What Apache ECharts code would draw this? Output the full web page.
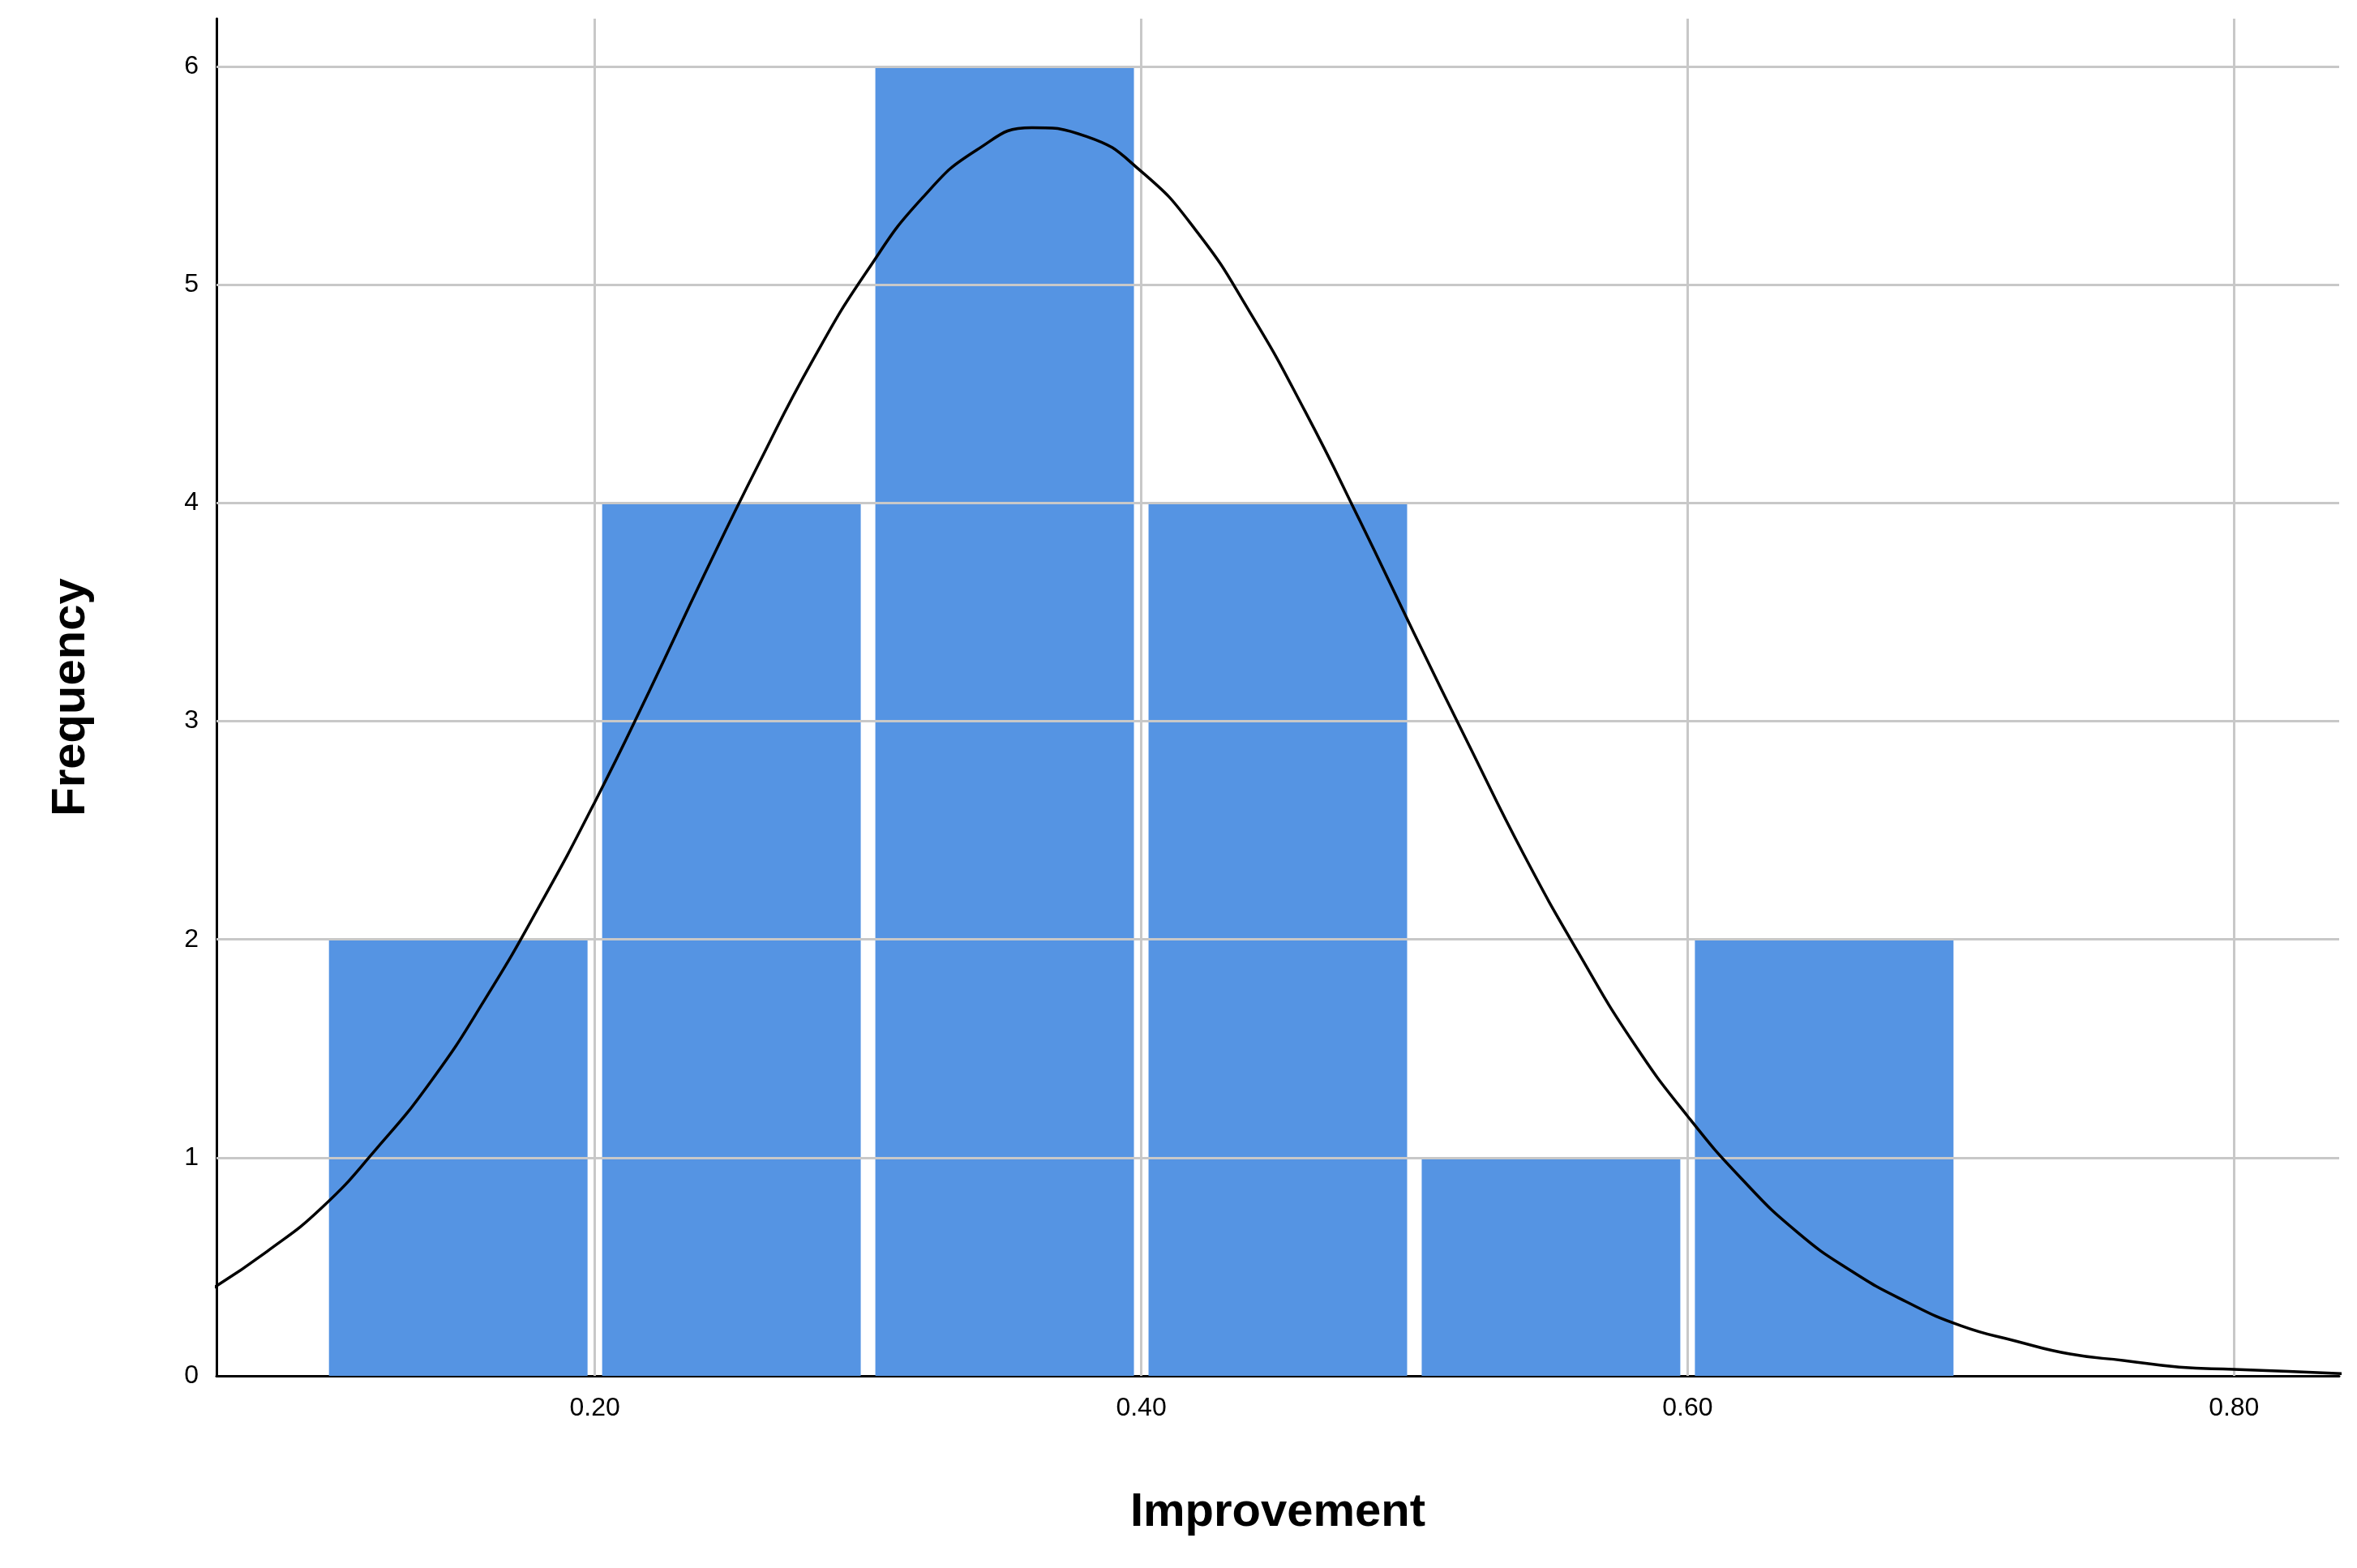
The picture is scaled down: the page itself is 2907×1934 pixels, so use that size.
<!DOCTYPE html>
<html><head><meta charset="utf-8">
<script src="https://cdn.jsdelivr.net/npm/echarts@6/dist/echarts.min.js"></script>
<style>html,body{margin:0;padding:0;background:#fff}#c{width:2907px;height:1934px}</style>
</head><body><div id="c"></div>
<script>
const binStarts = [0.1, 0.2, 0.3, 0.4, 0.5, 0.6];
const binWidth = 0.1;
const counts = [2, 4, 6, 4, 1, 2];
const curveX = [0.06,0.08,0.10,0.12,0.14,0.16,0.18,0.20,0.22,0.24,0.26,0.28,0.30,0.32,0.34,0.36,0.38,0.40,0.42,0.44,0.46,0.48,0.50,0.52,0.54,0.56,0.58,0.60,0.62,0.64,0.66,0.68,0.70,0.72,0.74,0.76,0.78,0.80,0.82,0.84];
const curveY = [0.40,0.57,0.77,1.04,1.35,1.73,2.16,2.63,3.14,3.67,4.18,4.66,5.07,5.40,5.62,5.72,5.68,5.52,5.25,4.87,4.42,3.92,3.40,2.89,2.39,1.94,1.53,1.19,0.90,0.66,0.48,0.34,0.23,0.16,0.10,0.07,0.04,0.03,0.02,0.01];
const xTicks = [0.2, 0.4, 0.6, 0.8];
const yTicks = [1, 2, 3, 4, 5, 6];

const chart = echarts.init(document.getElementById('c'));
const barData = binStarts.map((s, i) => [s, s + binWidth, counts[i]]);
const grey = '#c8c8c8';
chart.setOption({
  animation: false,
  grid: {left: 267, right: 22, top: 23, bottom: 237},
  xAxis: {
    type: 'value', min: 0.0615, max: 0.8385,
    name: 'Improvement', nameLocation: 'middle', nameGap: 140,
    nameTextStyle: {fontSize: 58, fontWeight: 'bold', color: '#000', fontFamily: 'Liberation Sans'},
    axisLine: {show: true, lineStyle: {color: '#000', width: 3}},
    axisTick: {show: false},
    splitLine: {show: false},
    axisLabel: {customValues: xTicks, formatter: v => v.toFixed(2), fontSize: 32, color: '#000', margin: 24, fontFamily: 'Liberation Sans'}
  },
  yAxis: {
    type: 'value', min: 0, max: 6.22, interval: 1,
    name: 'Frequency', nameLocation: 'middle', nameGap: 150,
    nameTextStyle: {fontSize: 58, fontWeight: 'bold', color: '#000', fontFamily: 'Liberation Sans'},
    axisLine: {show: true, lineStyle: {color: '#000', width: 3}},
    axisTick: {show: false},
    splitLine: {show: false},
    axisLabel: {customValues: [0].concat(yTicks), fontSize: 32, color: '#000', margin: 22, fontFamily: 'Liberation Sans'}
  },
  series: [
    {
      type: 'line', data: [], silent: true,
      markLine: {
        silent: true, symbol: 'none', label: {show: false},
        lineStyle: {color: grey, width: 3, type: 'solid'},
        data: xTicks.map(v => ({xAxis: v})).concat(yTicks.map(v => ({yAxis: v})))
      }
    },
    {
      type: 'custom', data: barData, z: 3,
      renderItem: (params, api) => {
        const p0 = api.coord([api.value(0), 0]);
        const p1 = api.coord([api.value(1), api.value(2)]);
        const inset = 9;
        return {type: 'rect', shape: {x: p0[0] + inset, y: p1[1], width: p1[0] - p0[0] - 2 * inset, height: p0[1] - p1[1]},
          style: {fill: '#5594e3'}};
      }
    },
    {
      type: 'line', z: 5, data: curveX.map((x, i) => [x, curveY[i]]),
      smooth: true, showSymbol: false, lineStyle: {color: '#000', width: 3.5}
    }
  ]
});
</script></body></html>
